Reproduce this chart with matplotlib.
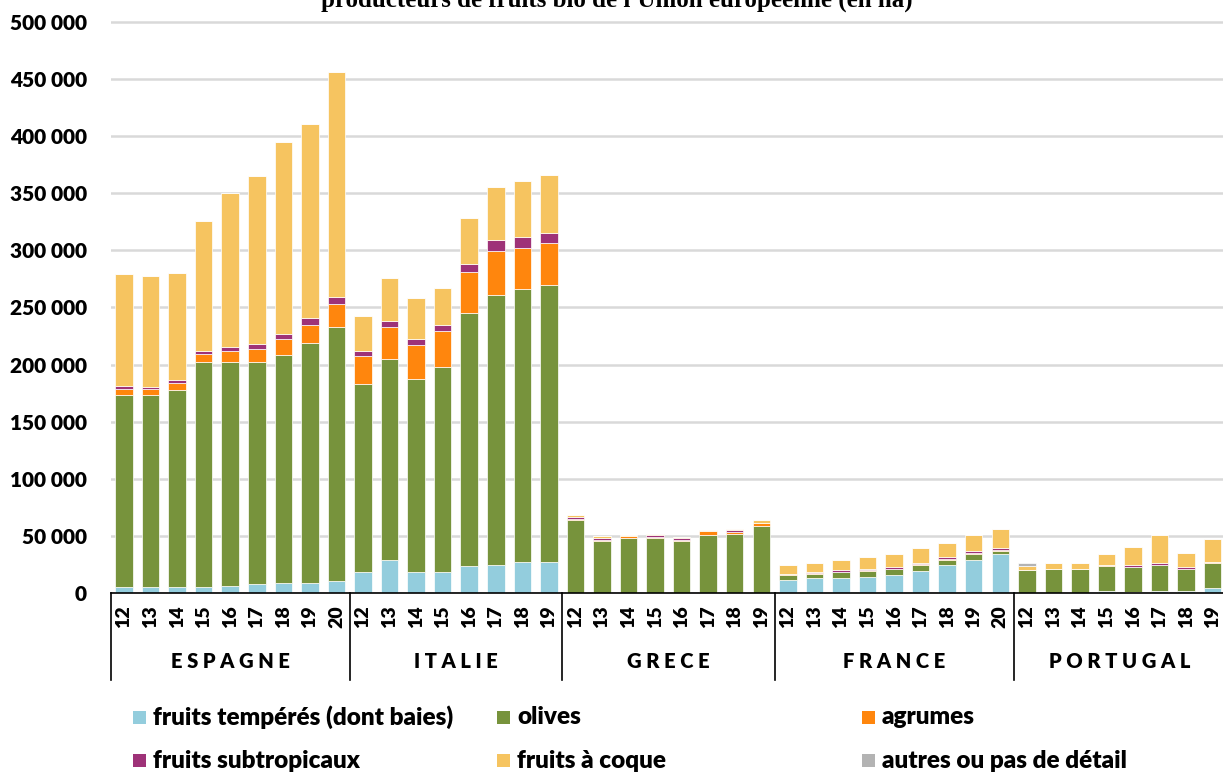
import matplotlib
matplotlib.use("Agg")
import matplotlib.pyplot as plt
from matplotlib.patches import Rectangle
import numpy as np

plt.rcParams['font.family'] = ['Lato', 'DejaVu Sans']

countries = ["ESPAGNE", "ITALIE", "GRECE", "FRANCE", "PORTUGAL"]
years = [
    ["12", "13", "14", "15", "16", "17", "18", "19", "20"],
    ["12", "13", "14", "15", "16", "17", "18", "19"],
    ["12", "13", "14", "15", "16", "17", "18", "19"],
    ["12", "13", "14", "15", "16", "17", "18", "19", "20"],
    ["12", "13", "14", "15", "16", "17", "18", "19"],
]

series_names = ["fruits tempérés (dont baies)", "olives", "agrumes",
                "fruits subtropicaux", "fruits à coque", "autres ou pas de détail"]
series_colors = ["#93CDDD", "#77933C", "#FF860D", "#9E3278", "#F6C460", "#B3B3B3"]

temperes = [5000, 5000, 5000, 5000, 6400, 7600, 9000, 9000, 10500,
            18100, 28600, 18100, 18100, 23300, 24800, 27400, 27400,
            0, 0, 0, 0, 0, 0, 0, 0,
            11700, 13100, 13100, 14300, 15750, 19500, 24800, 28600, 33800,
            0, 0, 0, 2000, 1000, 1500, 1500, 4100]
olives = [168000, 168000, 172400, 197000, 195700, 194500, 199500, 210000, 222800,
          164500, 176100, 169700, 179900, 221700, 236000, 238600, 242400,
          63900, 45800, 48100, 48100, 45800, 50750, 51900, 58600,
          3800, 3800, 5200, 5200, 5200, 5200, 4100, 5200, 2600,
          19800, 21000, 21000, 21600, 22000, 23300, 19500, 21900]
agrumes = [5500, 6000, 6300, 7600, 10200, 11700, 14300, 15500, 19600,
           24500, 28600, 29800, 31500, 36500, 39100, 36500, 36500,
           1000, 900, 1400, 900, 900, 3200, 1400, 2600,
           1300, 500, 500, 500, 500, 500, 1100, 1400, 1400,
           0, 0, 0, 1200, 0, 0, 0, 1500]
subtropicaux = [2600, 1500, 2600, 2600, 2700, 4100, 4100, 6700, 6700,
                5200, 5300, 5200, 5300, 6600, 9000, 9000, 9050,
                1500, 1500, 300, 1800, 1400, 0, 1500, 0,
                0, 1000, 1000, 1000, 1000, 1000, 1300, 1400, 1400,
                0, 0, 0, 0, 1500, 1500, 1500, 0]
coque = [97800, 97000, 94000, 113500, 135300, 147000, 167700, 169200, 196300,
         30100, 37600, 35300, 32300, 40300, 47000, 49300, 50700,
         1500, 1400, 800, 1200, 1100, 900, 1200, 2700,
         8000, 8000, 9000, 10500, 11600, 13100, 12800, 14000, 16600,
         3800, 5300, 5300, 9300, 15500, 24500, 12800, 19500]
autres = [0] * 34 + [2600, 0, 0, 0, 0, 0, 0, 0]

yticks = [0, 50000, 100000, 150000, 200000, 250000, 300000, 350000, 400000, 450000, 500000]
ytick_labels = ["0", "50 000", "100 000", "150 000", "200 000", "250 000",
                "300 000", "350 000", "400 000", "450 000", "500 000"]

title = "producteurs de fruits bio de l'Union européenne (en ha)"

W, H = 1223, 772
fig = plt.figure(figsize=(W / 100, H / 100), dpi=100)

left_px, right_px = 110.7, 1226.0
y0_px = 593.0
ytop_val = 505000
px_per_unit = 571.0 / 500000
top_px = y0_px - ytop_val * px_per_unit
ax = fig.add_axes([left_px / W, 1 - y0_px / H, (right_px - left_px) / W, (y0_px - top_px) / H])

data = [temperes, olives, agrumes, subtropicaux, coque, autres]
labels_flat = [y for grp in years for y in grp]
n = len(labels_flat)
x = np.arange(n)
bottom = np.zeros(n)
for vals, col in zip(data, series_colors):
    v = np.array(vals, dtype=float)
    ax.bar(x, v, bottom=bottom, width=0.66, color=col, edgecolor="#FFFFFF",
           linewidth=0.5, zorder=3)
    bottom += v

ax.set_xlim(-0.5, n - 0.5)
ax.set_ylim(0, ytop_val)
ax.set_yticks(yticks)
ax.set_yticklabels(ytick_labels, fontsize=15, fontweight="heavy")
ax.tick_params(axis="y", length=0, pad=17)
ax.yaxis.grid(True, color="#D9D9D9", linewidth=1.8, zorder=0)
ax.set_axisbelow(True)
ax.set_xticks(x)
ax.set_xticklabels(labels_flat, rotation=90, fontsize=14, fontweight="heavy")
ax.tick_params(axis="x", length=0, pad=9)
for s in ["top", "right", "left"]:
    ax.spines[s].set_visible(False)
ax.spines["bottom"].set_color("black")
ax.spines["bottom"].set_linewidth(1.2)
ax.spines["bottom"].set_zorder(4)

# group separators and labels
axes_h_px = y0_px - top_px
sep_depth = -(680 - y0_px) / axes_h_px
lab_y = -(662 - y0_px) / axes_h_px
trans = ax.get_xaxis_transform()
start = 0
bounds = [-0.5]
for grp in years:
    start += len(grp)
    bounds.append(start - 0.5)
for b in bounds:
    ax.plot([b, b], [0, sep_depth], color="black", linewidth=1.2,
            transform=trans, clip_on=False, zorder=4)
for i, c in enumerate(countries):
    cx = (bounds[i] + bounds[i + 1]) / 2
    ax.text(cx, lab_y, " ".join(c), transform=trans, ha="center", va="center",
            fontsize=14.5, fontweight="heavy")

# title (partially cut at top in the reference)
fig.text(617 / W, 1 - 6.5 / H, title, ha="center", va="baseline",
         fontsize=18, fontweight="bold", family="Liberation Serif")

# legend
leg_pos = [(133, 717.5), (497, 717.5), (862, 717.5), (133, 760.5), (497, 760.5), (862, 760.5)]
for (lx, ly), name, col in zip(leg_pos, series_names, series_colors):
    fig.patches.append(Rectangle((lx / W, 1 - (ly + 6.5) / H), 13 / W, 13 / H,
                                 transform=fig.transFigure, facecolor=col,
                                 edgecolor="none"))
    fig.text((lx + 20) / W, 1 - ly / H, name, ha="left", va="center",
             fontsize=17.5, fontweight="heavy")

fig.savefig("out.png", dpi=100)
